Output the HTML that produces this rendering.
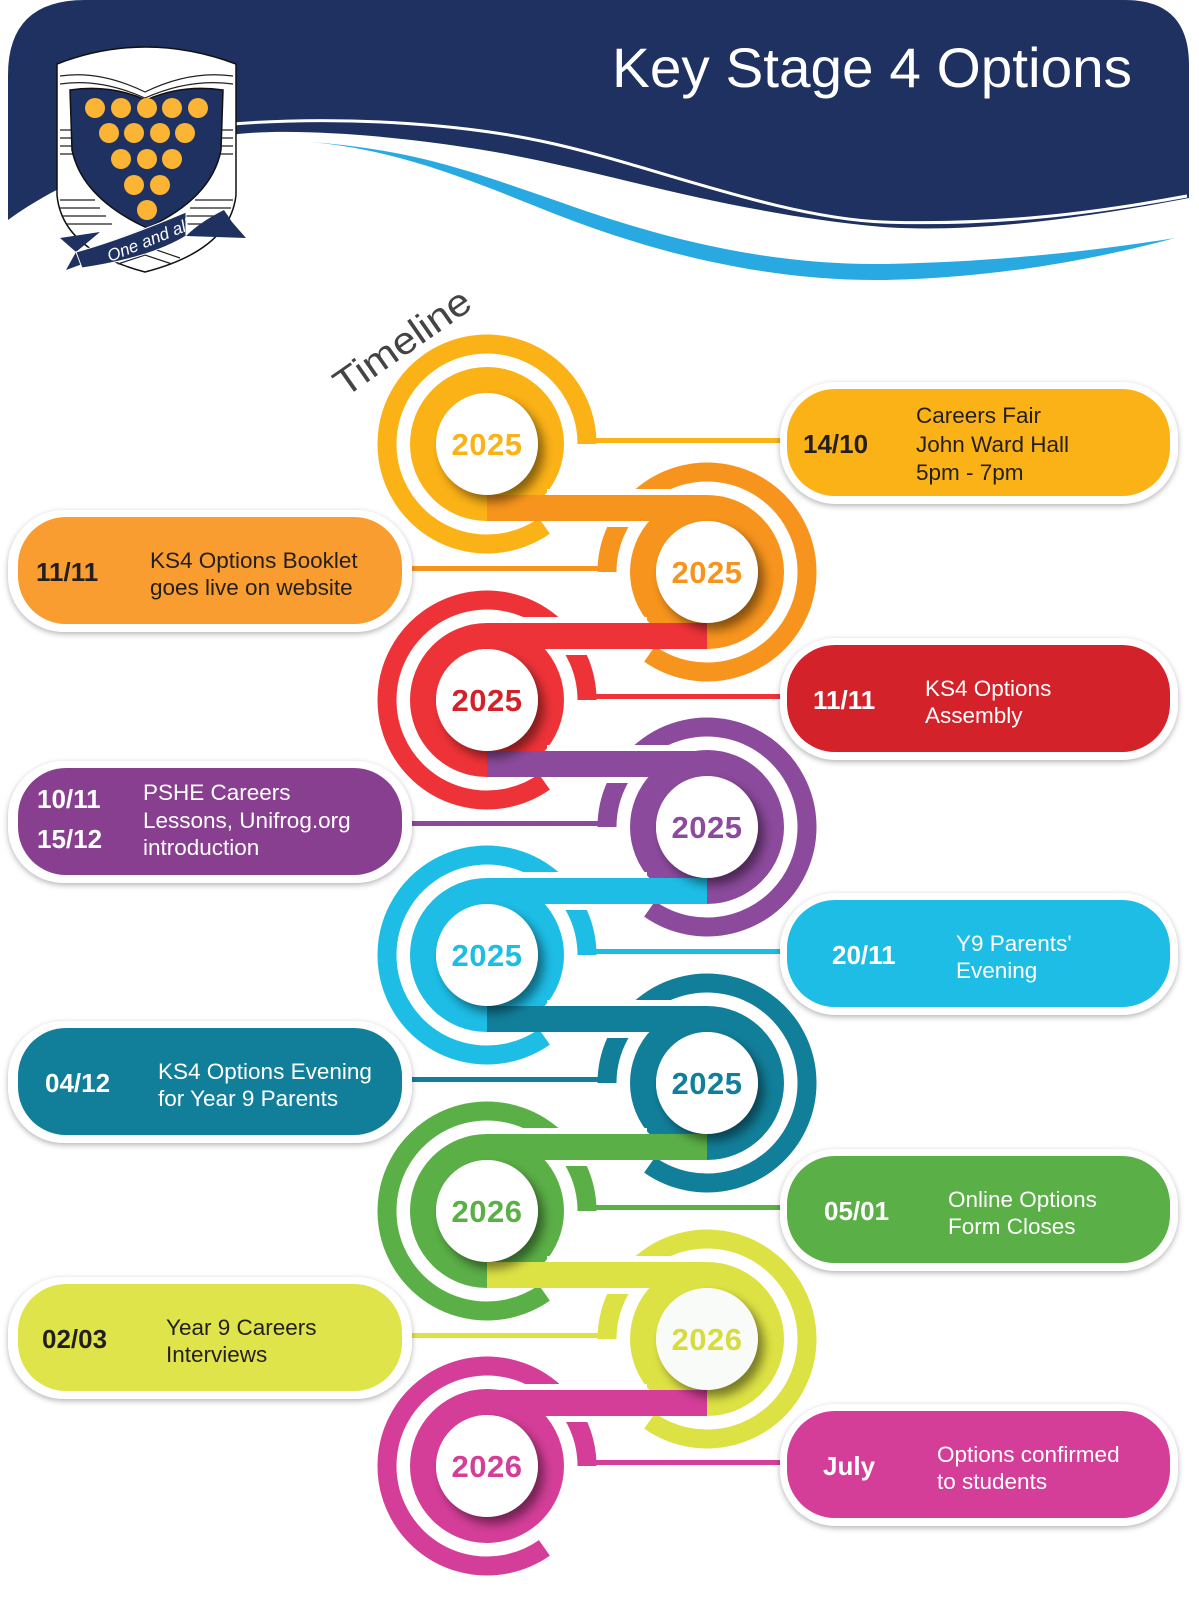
<!DOCTYPE html>
<html><head><meta charset="utf-8"><style>
html,body{margin:0;padding:0;background:#fff;}
svg{display:block;}
text{font-family:"Liberation Sans",sans-serif;}
.d{font-weight:bold;font-size:26px;}
.t{font-size:22.5px;}
.y{font-weight:bold;font-size:31px;letter-spacing:0.5px;}
</style></head><body>
<svg width="1199" height="1600" viewBox="0 0 1199 1600" xmlns="http://www.w3.org/2000/svg">
<defs>
<filter id="bs" x="-10%" y="-20%" width="120%" height="140%"><feDropShadow dx="0" dy="2" stdDeviation="3" flood-color="#000" flood-opacity="0.3"/></filter>
<filter id="ds" x="-50%" y="-50%" width="200%" height="200%"><feGaussianBlur stdDeviation="5"/></filter>
</defs>

<!-- Header -->
<path d="M8 220 L8 75 Q8 0 85 0 L1125 0 Q1189 0 1189 65 L1189 198 C1050 225 950 232 883 227 C750 215 650 185 550 163 C450 140 300 125 230 135 C150 148 70 175 8 220 Z" fill="#1F3160"/>
<path d="M232 124 C350 115 470 125 550 143 C650 165 780 218 883 222 C1000 226 1100 212 1187 196" fill="none" stroke="#fff" stroke-width="3"/>
<path d="M310 142 C420 150 480 175 560 202 C680 245 780 265 883 264 C1000 262 1100 250 1175 238 C1100 258 1000 278 883 280 C770 281 660 255 555 214 C470 180 400 150 310 142 Z" fill="#29A9E1"/>
<text x="612" y="87" fill="#fff" font-size="56" textLength="520" lengthAdjust="spacingAndGlyphs">Key Stage 4 Options</text>

<!-- Logo -->
<g>
<path d="M57 64 Q145 30 236 64 L236 195 Q230 250 145 272 Q62 250 57 195 Z" fill="#fff" stroke="#111" stroke-width="1.5"/>
<g stroke="#222" stroke-width="1.2" fill="none">
<path d="M60 76 Q100 70 145 92 Q190 70 233 76"/><path d="M60 84 Q100 78 145 98"/><path d="M145 98 Q190 78 233 84"/>
<path d="M60 130 H75 M60 138 H77 M60 146 H79 M60 154 H81 M60 200 H95 M60 208 H100 M62 216 H106 M66 224 H112"/>
<path d="M216 130 H233 M214 138 H233 M212 146 H233 M210 154 H233 M195 200 H233 M190 208 H231 M184 216 H228 M178 224 H224"/>
<path d="M110 258 L145 246 L180 258 M118 264 L145 255 L172 264"/>
</g>
<path d="M70 90 Q110 84 146 100 Q182 84 223 90 L221 150 Q212 198 147 228 Q82 198 72 150 Z" fill="#1F3160" stroke="#111" stroke-width="1.5"/>
<g fill="#FBB433">
<circle cx="95" cy="108" r="10"/><circle cx="121" cy="108" r="10"/><circle cx="147" cy="108" r="10"/><circle cx="172" cy="108" r="10"/><circle cx="198" cy="108" r="10"/>
<circle cx="109" cy="133" r="10"/><circle cx="134" cy="133" r="10"/><circle cx="160" cy="133" r="10"/><circle cx="185" cy="133" r="10"/>
<circle cx="121" cy="159" r="10"/><circle cx="147" cy="159" r="10"/><circle cx="172" cy="159" r="10"/>
<circle cx="134" cy="185" r="10"/><circle cx="160" cy="185" r="10"/>
<circle cx="147" cy="210" r="10"/>
</g>
<path d="M60 238 L100 232 L76 252 L66 270 L88 262 Q150 258 186 236 L246 238 L232 222 L224 210 Q200 222 186 236 Q170 216 140 230 Q110 242 76 252 Z" fill="#1F3160"/>
<path d="M76 252 Q120 240 186 212 L186 236 Q150 258 82 268 Z" fill="#1F3160" stroke="#fff" stroke-width="1"/>
<text x="0" y="0" fill="#fff" font-size="17" font-style="italic" font-family="Liberation Serif, serif" transform="translate(110 262) rotate(-22)">One and all</text>
</g>

<!-- Timeline label -->
<text x="0" y="0" fill="#444" font-size="38" textLength="158" lengthAdjust="spacingAndGlyphs" transform="translate(345 398) rotate(-35)">Timeline</text>

<!-- Circle 0 yellow (left) -->
<path d="M587 444 A100 100 0 1 0 544.4 525.9" fill="none" stroke="#FBB217" stroke-width="19"/>
<rect x="578" y="438" width="212" height="5" fill="#FBB217"/>
<circle cx="487" cy="444" r="64" fill="none" stroke="#FBB217" stroke-width="26"/>

<!-- Circle 1 orange (right) -->
<path d="M607 572 A100 100 0 1 1 649.6 653.9" fill="none" stroke="#F7941D" stroke-width="19"/>
<rect x="410" y="566" width="206" height="5" fill="#F7941D"/>
<rect x="547" y="489" width="160" height="38" fill="#fff"/>
<rect x="487" y="495" width="220" height="26" fill="#F7941D"/>
<circle cx="707" cy="572" r="64" fill="none" stroke="#F7941D" stroke-width="26"/>

<!-- Circle 2 red (left) -->
<path d="M587 700 A100 100 0 1 0 544.4 781.9" fill="none" stroke="#EE3338" stroke-width="19"/>
<rect x="578" y="694" width="212" height="5" fill="#EE3338"/>
<rect x="487" y="617" width="160" height="38" fill="#fff"/>
<rect x="487" y="623" width="220" height="26" fill="#EE3338"/>
<circle cx="487" cy="700" r="64" fill="none" stroke="#EE3338" stroke-width="26"/>

<!-- Circle 3 purple (right) -->
<path d="M607 827 A100 100 0 1 1 649.6 908.9" fill="none" stroke="#8C4A9C" stroke-width="19"/>
<rect x="410" y="821" width="206" height="5" fill="#8C4A9C"/>
<rect x="547" y="745" width="160" height="38" fill="#fff"/>
<rect x="487" y="751" width="220" height="26" fill="#8C4A9C"/>
<circle cx="707" cy="827" r="64" fill="none" stroke="#8C4A9C" stroke-width="26"/>

<!-- Circle 4 cyan (left) -->
<path d="M587 955 A100 100 0 1 0 544.4 1036.9" fill="none" stroke="#1DBDE6" stroke-width="19"/>
<rect x="578" y="949" width="212" height="5" fill="#1DBDE6"/>
<rect x="487" y="872" width="160" height="38" fill="#fff"/>
<rect x="487" y="878" width="220" height="26" fill="#1DBDE6"/>
<circle cx="487" cy="955" r="64" fill="none" stroke="#1DBDE6" stroke-width="26"/>

<!-- Circle 5 teal (right) -->
<path d="M607 1083 A100 100 0 1 1 649.6 1164.9" fill="none" stroke="#117F9A" stroke-width="19"/>
<rect x="410" y="1077" width="206" height="5" fill="#117F9A"/>
<rect x="547" y="1000" width="160" height="38" fill="#fff"/>
<rect x="487" y="1006" width="220" height="26" fill="#117F9A"/>
<circle cx="707" cy="1083" r="64" fill="none" stroke="#117F9A" stroke-width="26"/>

<!-- Circle 6 green (left) -->
<path d="M587 1211 A100 100 0 1 0 544.4 1292.9" fill="none" stroke="#5BAF47" stroke-width="19"/>
<rect x="578" y="1205" width="212" height="5" fill="#5BAF47"/>
<rect x="487" y="1128" width="160" height="38" fill="#fff"/>
<rect x="487" y="1134" width="220" height="26" fill="#5BAF47"/>
<circle cx="487" cy="1211" r="64" fill="none" stroke="#5BAF47" stroke-width="26"/>

<!-- Circle 7 lime (right) -->
<path d="M607 1339 A100 100 0 1 1 649.6 1420.9" fill="none" stroke="#DDE244" stroke-width="19"/>
<rect x="410" y="1333" width="206" height="5" fill="#DDE244"/>
<rect x="547" y="1256" width="160" height="38" fill="#fff"/>
<rect x="487" y="1262" width="220" height="26" fill="#DDE244"/>
<circle cx="707" cy="1339" r="64" fill="none" stroke="#DDE244" stroke-width="26"/>

<!-- Circle 8 magenta (left) -->
<path d="M587 1466 A100 100 0 1 0 544.4 1547.9" fill="none" stroke="#D43E98" stroke-width="19"/>
<rect x="578" y="1460" width="212" height="5" fill="#D43E98"/>
<rect x="487" y="1384" width="160" height="38" fill="#fff"/>
<rect x="487" y="1390" width="220" height="26" fill="#D43E98"/>
<circle cx="487" cy="1466" r="64" fill="none" stroke="#D43E98" stroke-width="26"/>

<!-- Disks -->
<g fill="#000" opacity="0.45" filter="url(#ds)">
<circle cx="493" cy="451" r="51"/><circle cx="713" cy="579" r="51"/><circle cx="493" cy="707" r="51"/>
<circle cx="713" cy="834" r="51"/><circle cx="493" cy="962" r="51"/><circle cx="713" cy="1090" r="51"/>
<circle cx="493" cy="1218" r="51"/><circle cx="713" cy="1346" r="51"/><circle cx="493" cy="1473" r="51"/>
</g>
<g fill="#fff">
<circle cx="487" cy="444" r="51"/><circle cx="707" cy="572" r="51"/><circle cx="487" cy="700" r="51"/>
<circle cx="707" cy="827" r="51"/><circle cx="487" cy="955" r="51"/><circle cx="707" cy="1083" r="51"/>
<circle cx="487" cy="1211" r="51"/><circle cx="707" cy="1339" r="51" fill="#F9FBF8"/><circle cx="487" cy="1466" r="51"/>
</g>
<g text-anchor="middle" class="y">
<text class="y" x="487" y="455" fill="#FBB217">2025</text>
<text class="y" x="707" y="583" fill="#F7941D">2025</text>
<text class="y" x="487" y="711" fill="#D42129">2025</text>
<text class="y" x="707" y="838" fill="#8C4A9C">2025</text>
<text class="y" x="487" y="966" fill="#1DBDE6">2025</text>
<text class="y" x="707" y="1094" fill="#117F9A">2025</text>
<text class="y" x="487" y="1222" fill="#5BAF47">2026</text>
<text class="y" x="707" y="1350" fill="#D7DC3E">2026</text>
<text class="y" x="487" y="1477" fill="#D43E98">2026</text>
</g>

<!-- Boxes -->
<g filter="url(#bs)" fill="#fff">
<rect x="780" y="382" width="398" height="122" rx="56"/>
<rect x="8" y="510" width="404" height="122" rx="56"/>
<rect x="780" y="638" width="398" height="122" rx="56"/>
<rect x="8" y="761" width="404" height="122" rx="56"/>
<rect x="780" y="893" width="398" height="122" rx="56"/>
<rect x="8" y="1021" width="404" height="122" rx="56"/>
<rect x="780" y="1149" width="398" height="122" rx="56"/>
<rect x="8" y="1277" width="404" height="122" rx="56"/>
<rect x="780" y="1404" width="398" height="122" rx="56"/>
</g>
<rect x="787" y="389" width="383" height="107" rx="48" fill="#FBB217"/>
<rect x="18" y="517" width="384" height="107" rx="48" fill="#F99D31"/>
<rect x="787" y="645" width="383" height="107" rx="48" fill="#D32229"/>
<rect x="18" y="768" width="384" height="107" rx="48" fill="#893F90"/>
<rect x="787" y="900" width="383" height="107" rx="48" fill="#1DBDE6"/>
<rect x="18" y="1028" width="384" height="107" rx="48" fill="#117F9A"/>
<rect x="787" y="1156" width="383" height="107" rx="48" fill="#5BAF47"/>
<rect x="18" y="1284" width="384" height="107" rx="48" fill="#DFE44A"/>
<rect x="787" y="1411" width="383" height="107" rx="48" fill="#D43E98"/>

<!-- Box text -->
<g fill="#231F20">
<text class="d" x="803" y="453">14/10</text>
<text class="t" x="916" y="423">Careers Fair</text>
<text class="t" x="916" y="452">John Ward Hall</text>
<text class="t" x="916" y="480">5pm - 7pm</text>
<text class="d" x="36" y="581">11/11</text>
<text class="t" x="150" y="568">KS4 Options Booklet</text>
<text class="t" x="150" y="595">goes live on website</text>
<text class="d" x="42" y="1348">02/03</text>
<text class="t" x="166" y="1335">Year 9 Careers</text>
<text class="t" x="166" y="1362">Interviews</text>
</g>
<g fill="#fff">
<text class="d" x="813" y="709">11/11</text>
<text class="t" x="925" y="696">KS4 Options</text>
<text class="t" x="925" y="723">Assembly</text>
<text class="d" x="37" y="808">10/11</text>
<text class="d" x="37" y="848">15/12</text>
<text class="t" x="143" y="800">PSHE Careers</text>
<text class="t" x="143" y="828">Lessons, Unifrog.org</text>
<text class="t" x="143" y="855">introduction</text>
<text class="d" x="832" y="964">20/11</text>
<text class="t" x="956" y="951">Y9 Parents'</text>
<text class="t" x="956" y="978">Evening</text>
<text class="d" x="45" y="1092">04/12</text>
<text class="t" x="158" y="1079">KS4 Options Evening</text>
<text class="t" x="158" y="1106">for Year 9 Parents</text>
<text class="d" x="824" y="1220">05/01</text>
<text class="t" x="948" y="1207">Online Options</text>
<text class="t" x="948" y="1234">Form Closes</text>
<text class="d" x="823" y="1475">July</text>
<text class="t" x="937" y="1462">Options confirmed</text>
<text class="t" x="937" y="1489">to students</text>
</g>
</svg>
</body></html>
